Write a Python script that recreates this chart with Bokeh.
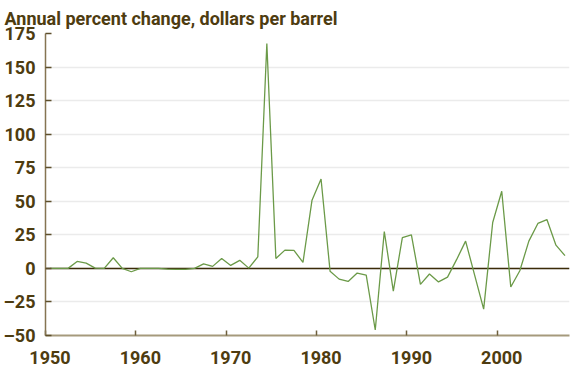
from bokeh.plotting import figure
from bokeh.models import Range1d, FixedTicker, Span
from bokeh.embed import file_html
from bokeh.resources import INLINE

years = list(range(1950, 2008))
pct_change = [
    0.0, 0.0, 0.0, 5.2, 3.9, 0.2, 0.0, 7.9, 0.0, -2.5,     # 1950-1959
    0.0, 0.0, 0.0, -0.5, -0.8, -0.8, 0.0, 3.4, 1.5, 7.4,   # 1960-1969
    2.2, 6.0, 0.2, 8.6, 167.5, 7.4, 13.6, 13.4, 4.5, 50.8, # 1970-1979
    66.6, -2.2, -8.0, -9.7, -3.5, -5.0, -45.9, 27.5, -16.9, 23.0,  # 1980-1989
    25.0, -11.9, -4.2, -10.1, -6.5, 6.5, 20.3, -5.0, -30.3, 34.2,  # 1990-1999
    57.5, -13.9, -1.8, 20.3, 33.5, 36.4, 17.3, 9.5,        # 2000-2007
]
x_tick_years = [1950, 1960, 1970, 1980, 1990, 2000]
x_tick_labels = {y: str(y) for y in x_tick_years}
y_ticks = [-50, -25, 0, 25, 50, 75, 100, 125, 150, 175]
y_tick_labels = {v: (str(v) if v >= 0 else "\u2013" + str(-v)) for v in y_ticks}

TEXT = "#4e3c10"
FONT = "Roboto"

p = figure(frame_width=524, frame_height=302, output_backend="svg", toolbar_location=None,
           x_range=Range1d(years[0] - 0.5, years[-1] + 0.5),
           y_range=Range1d(y_ticks[0], y_ticks[-1]),
           min_border_left=0, min_border_right=2, min_border_bottom=0, min_border_top=0)
p.outline_line_color = None
p.background_fill_color = "white"

p.title.text = "Annual percent change, dollars per barrel"
p.title.text_font = FONT
p.title.text_font_size = "18px"
p.title.text_font_style = "bold"
p.title.text_color = TEXT
p.title.align = "left"
p.title.offset = -41
p.title.standoff = 10

# x axis: tick marks at the year-band boundaries, labels centred on the bands
xa = p.xaxis[0]
xa.ticker = FixedTicker(ticks=x_tick_years, minor_ticks=[y - 0.5 for y in x_tick_years])
xa.major_label_overrides = x_tick_labels
xa.major_tick_line_color = None
xa.minor_tick_line_color = "#6e5f3c"
xa.minor_tick_line_width = 1.5
xa.minor_tick_in = 5
xa.minor_tick_out = 0
xa.axis_line_color = "#a59a7c"
xa.axis_line_width = 2
xa.major_label_text_font = FONT
xa.major_label_text_font_size = "18px"
xa.major_label_text_font_style = "bold"
xa.major_label_text_color = TEXT
xa.major_label_standoff = 9

# y axis
ya = p.yaxis[0]
ya.ticker = FixedTicker(ticks=y_ticks)
ya.major_label_overrides = y_tick_labels
ya.minor_tick_line_color = None
ya.major_tick_in = 6
ya.major_tick_out = 0
ya.major_tick_line_color = "#5e4f2c"
ya.major_tick_line_width = 1.5
ya.axis_line_color = "#857452"
ya.axis_line_width = 1.5
ya.major_label_text_font = FONT
ya.major_label_text_font_size = "18px"
ya.major_label_text_font_style = "bold"
ya.major_label_text_color = TEXT
ya.major_label_standoff = 10

p.xgrid.grid_line_color = None
p.ygrid.grid_line_color = "#ebebeb"
p.ygrid.grid_line_width = 1.5

zero = Span(location=0, dimension="width", line_color="#3b2b08", line_width=1.5, level="underlay")
p.add_layout(zero)

p.line(years, pct_change, line_color="#6b9a48", line_width=1.3)

open("out.html", "w").write(file_html(p, INLINE))
